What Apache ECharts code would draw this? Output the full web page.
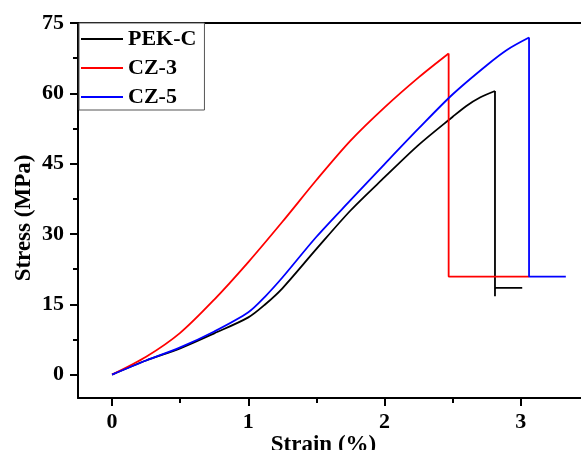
<!DOCTYPE html>
<html>
<head>
<meta charset="utf-8">
<script src="https://cdn.jsdelivr.net/npm/echarts@6/dist/echarts.min.js"></script>
<style>
html, body { margin: 0; padding: 0; background: #fff; }
#main { width: 581px; height: 450px; }
</style>
</head>
<body>
<div id="main"></div>
<script>
var names = ['PEK-C', 'CZ-3', 'CZ-5'];
var colors = ['#000000', '#ff0000', '#0000ff'];

// strain (%) and stress (MPa), loading part up to break
var pekcStrain = [0, 0.25, 0.5, 0.75, 1.0, 1.125, 1.25, 1.5, 1.75, 2.0, 2.25, 2.5, 2.6, 2.7, 2.81];
var pekcStress = [0, 3.0, 5.6, 8.8, 12.2, 15.0, 18.4, 26.8, 35.0, 42.1, 49.0, 55.0, 57.3, 59.1, 60.5];
var cz3Strain = [0, 0.25, 0.5, 0.75, 1.0, 1.25, 1.5, 1.75, 2.0, 2.25, 2.47];
var cz3Stress = [0, 3.8, 8.9, 16.0, 24.0, 32.6, 41.5, 49.9, 57.0, 63.4, 68.5];
var cz5Strain = [0, 0.25, 0.5, 0.75, 1.0, 1.125, 1.25, 1.5, 1.75, 2.0, 2.25, 2.5, 2.75, 2.9, 3.06];
var cz5Stress = [0, 3.0, 5.8, 9.2, 13.3, 16.7, 20.7, 29.4, 37.2, 44.9, 52.5, 59.8, 66.0, 69.3, 71.9];

// after break: drop and tail
var pekcDropStrain = [2.81, 2.81, 2.81, 3.01];
var pekcDropStress = [60.5, 16.7, 18.5, 18.5];
var cz3DropStrain = [2.47, 2.47, 3.06];
var cz3DropStress = [68.5, 20.9, 20.9];
var cz5DropStrain = [3.06, 3.06, 3.33];
var cz5DropStress = [71.9, 20.9, 20.9];

var xMajor = [0, 1, 2, 3];
var xMinor = [0.5, 1.5, 2.5];
var yMajor = [0, 15, 30, 45, 60, 75];
var yMinor = [7.5, 22.5, 37.5, 52.5, 67.5];

var font = "'Liberation Serif', 'Times New Roman', serif";

function pairs(xs, ys) {
	var arr = [];
	for (var i = 0; i < xs.length; i++) {
		arr.push([xs[i], ys[i]]);
	}
	return arr;
}
var curves = [pairs(pekcStrain, pekcStress), pairs(cz3Strain, cz3Stress), pairs(cz5Strain, cz5Stress)];
var drops = [pairs(pekcDropStrain, pekcDropStress), pairs(cz3DropStrain, cz3DropStress), pairs(cz5DropStrain, cz5DropStress)];

var labelStyle = { fontFamily: font, fontWeight: 'bold', fontSize: 22, color: '#000' };

var myChart = echarts.init(document.getElementById('main'));

var series = [];
names.forEach(function (n, i) {
	series.push({
		name: n,
		type: 'line',
		data: curves[i],
		symbol: 'none',
		smooth: 0.3,
		color: colors[i],
		lineStyle: { color: colors[i], width: 1.8 }
	});
	series.push({
		name: n,
		type: 'line',
		data: drops[i],
		symbol: 'none',
		color: colors[i],
		lineStyle: { color: colors[i], width: 1.8 }
	});
});

var option = {
	animation: false,
	backgroundColor: '#fff',
	grid: {
		left: 78,
		top: 23,
		right: -8,
		bottom: 52,
		containLabel: false,
		outerBoundsMode: 'none'
	},
	legend: {
		orient: 'vertical',
		left: 79,
		top: 23,
		padding: [5, 8, 2, 2],
		itemGap: 7,
		itemWidth: 42,
		itemHeight: 2,
		icon: 'rect',
		backgroundColor: '#fff',
		borderColor: '#555',
		borderWidth: 1,
		borderRadius: 0,
		textStyle: labelStyle,
		data: names,
		z: 10
	},
	xAxis: [
		{
			type: 'value',
			min: -0.25,
			max: 3.5,
			position: 'bottom',
			name: 'Strain (%)',
			nameLocation: 'middle',
			nameGap: 36,
			nameMoveOverlap: false,
			nameTextStyle: { fontFamily: font, fontWeight: 'bold', fontSize: 23, color: '#000', padding: [0, 20, 0, 0] },
			axisLine: { onZero: false, lineStyle: { color: '#000', width: 2 } },
			axisTick: { customValues: xMajor, length: 8, lineStyle: { color: '#000', width: 2 } },
			axisLabel: { customValues: xMajor, margin: 13, textStyle: labelStyle },
			splitLine: { show: false }
		},
		{
			type: 'value',
			min: -0.25,
			max: 3.5,
			position: 'bottom',
			axisLine: { show: false, onZero: false },
			axisTick: { customValues: xMinor, length: 5, lineStyle: { color: '#000', width: 2 } },
			axisLabel: { show: false },
			splitLine: { show: false }
		},
		{
			type: 'value',
			min: -0.25,
			max: 3.5,
			position: 'top',
			axisLine: { onZero: false, lineStyle: { color: '#000', width: 2 } },
			axisTick: { show: false },
			axisLabel: { show: false },
			splitLine: { show: false }
		}
	],
	yAxis: [
		{
			type: 'value',
			min: -5,
			max: 75,
			position: 'left',
			name: 'Stress (MPa)',
			nameLocation: 'middle',
			nameGap: 42,
			nameMoveOverlap: false,
			nameTextStyle: { fontFamily: font, fontWeight: 'bold', fontSize: 23, color: '#000', padding: [0, 15, 0, 0] },
			axisLine: { onZero: false, lineStyle: { color: '#000', width: 2 } },
			axisTick: { customValues: yMajor, length: 8, lineStyle: { color: '#000', width: 2 } },
			axisLabel: { customValues: yMajor, margin: 14, textStyle: labelStyle },
			splitLine: { show: false }
		},
		{
			type: 'value',
			min: -5,
			max: 75,
			position: 'left',
			axisLine: { show: false, onZero: false },
			axisTick: { customValues: yMinor, length: 5, lineStyle: { color: '#000', width: 2 } },
			axisLabel: { show: false },
			splitLine: { show: false }
		}
	],
	series: series
};
myChart.setOption(option);
</script>
</body>
</html>
